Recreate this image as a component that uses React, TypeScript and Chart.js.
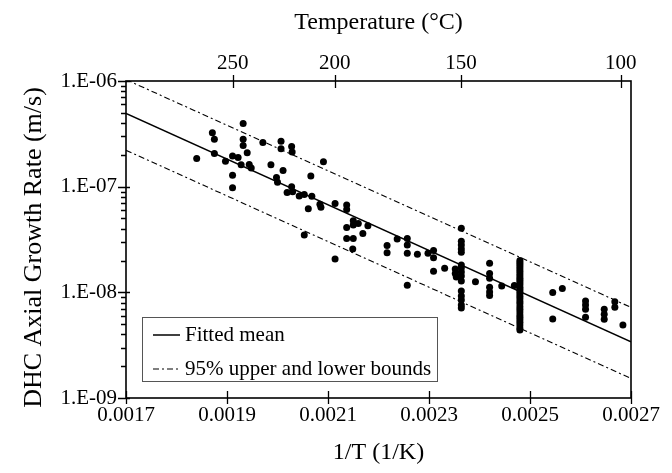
import React, { useEffect, useRef } from "react";
import { Chart, registerables } from "chart.js";

Chart.register(...registerables);

// ---- axis ticks ----
const X_TICKS = [0.0017, 0.0019, 0.0021, 0.0023, 0.0025, 0.0027];
const Y_TICKS = [1e-9, 1e-8, 1e-7, 1e-6];
const Y_TICK_LABELS = ["1.E-09", "1.E-08", "1.E-07", "1.E-06"];
const TEMP_TICKS = [250, 200, 150, 100]; // °C on top axis

// ---- fitted lines (1/T endpoints) ----
const FIT_X = [0.0017, 0.0027];
const FIT_MEAN = [4.92e-7, 3.41e-9];
const FIT_UPPER = [1.03e-6, 7.2e-9];
const FIT_LOWER = [2.21e-7, 1.53e-9];

// ---- scattered measurements (1/T, rate m/s) ----
const SCATTER_X = [
  0.001840, 0.001871, 0.001875, 0.001875, 0.001897, 0.001911, 0.001922, 0.001911, 0.001911,
  0.001932, 0.001932, 0.001932, 0.001940, 0.001928, 0.001944, 0.001948,
  0.001971, 0.001987, 0.002007, 0.002007, 0.002011, 0.001998, 0.002000, 0.002028, 0.002029,
  0.002019, 0.002028, 0.002030, 0.002043, 0.002053, 0.002068, 0.002066, 0.002091,
  0.002061, 0.002084, 0.002086, 0.002053,
  0.002114, 0.002137, 0.002137, 0.002137, 0.002137, 0.002114, 0.002150, 0.002150, 0.002160,
  0.002150, 0.002149, 0.002169, 0.002179, 0.002217, 0.002217, 0.002237,
  0.002257, 0.002257, 0.002257, 0.002257, 0.002277, 0.002298, 0.002309, 0.002309, 0.002309,
  0.002331, 0.002352, 0.002352, 0.002354, 0.002392,
  0.002444, 0.002469, 0.002545, 0.002564, 0.002545, 0.002684,
];
const SCATTER_Y = [
  1.85e-7, 3.23e-7, 2.81e-7, 2.06e-7, 1.74e-7, 1.95e-7, 1.89e-7, 1.28e-7, 9.75e-8,
  3.96e-7, 2.81e-7, 2.45e-7, 2.09e-7, 1.61e-7, 1.62e-7, 1.50e-7,
  2.62e-7, 1.61e-7, 2.69e-7, 2.28e-7, 1.42e-7, 1.22e-7, 1.10e-7, 2.40e-7, 2.13e-7,
  8.81e-8, 9.96e-8, 8.93e-8, 8.18e-8, 8.44e-8, 8.13e-8, 1.26e-7, 1.72e-7,
  6.17e-8, 6.83e-8, 6.40e-8, 3.48e-8,
  6.94e-8, 6.69e-8, 6.09e-8, 4.11e-8, 3.24e-8, 2.07e-8, 4.75e-8, 4.33e-8, 4.49e-8,
  3.24e-8, 2.57e-8, 3.61e-8, 4.26e-8, 2.78e-8, 2.37e-8, 3.19e-8,
  3.24e-8, 2.80e-8, 2.34e-8, 1.17e-8, 2.29e-8, 2.34e-8, 2.49e-8, 2.13e-8, 1.58e-8,
  1.69e-8, 1.66e-8, 1.51e-8, 1.40e-8, 1.26e-8,
  1.15e-8, 1.16e-8, 9.95e-9, 1.09e-8, 5.60e-9, 4.91e-9,
];

// ---- repeated tests at one temperature (columns) ----
const COL_X = [0.002364, 0.002420, 0.002480, 0.002610, 0.002647, 0.002668];
const COL_150C = [4.05e-8, 3.05e-8, 2.80e-8, 2.57e-8, 2.40e-8, 1.81e-8, 1.70e-8, 1.56e-8,
  1.43e-8, 1.28e-8, 1.03e-8, 9.23e-9, 8.46e-9, 7.59e-9, 7.10e-9];
const COL_140C = [1.88e-8, 1.51e-8, 1.36e-8, 1.12e-8, 1.01e-8, 9.33e-9];
const COL_130C = [2.0e-8, 1.92e-8, 1.83e-8, 1.75e-8, 1.66e-8, 1.58e-8, 1.5e-8, 1.43e-8,
  1.36e-8, 1.3e-8, 1.24e-8, 1.18e-8, 1.12e-8, 1.07e-8, 1.02e-8, 9.7e-9, 9.2e-9, 8.7e-9,
  8.2e-9, 7.8e-9, 7.3e-9, 6.9e-9, 6.5e-9, 6.1e-9, 5.8e-9, 5.5e-9, 5.2e-9, 4.9e-9, 4.6e-9, 4.4e-9];
const COL_110C = [8.27e-9, 7.59e-9, 6.90e-9, 5.81e-9];
const COL_105C = [6.90e-9, 6.19e-9, 5.56e-9];
const COL_102C = [8.15e-9, 7.22e-9];
const COL_Y = [COL_150C, COL_140C, COL_130C, COL_110C, COL_105C, COL_102C];

const LEGEND_LABELS = ["Fitted mean", "95% upper and lower bounds"];
const Y_TITLE = "DHC Axial Growth Rate (m/s)";

const FONT = "'Liberation Serif', 'Times New Roman', serif";

const framePlugin = {
  id: "frameTicksLegend",
  afterDraw(chart: any) {
    const { ctx, chartArea: a, scales } = chart;
    ctx.save();
    ctx.strokeStyle = "#000";
    ctx.lineWidth = 1.6;
    ctx.strokeRect(a.left, a.top, a.right - a.left, a.bottom - a.top);

    ctx.lineWidth = 1.3;
    ctx.beginPath();
    scales.x.ticks.forEach((t: any) => {
      const px = Math.round(scales.x.getPixelForValue(t.value)) + 0.5;
      ctx.moveTo(px, a.bottom - 7);
      ctx.lineTo(px, a.bottom + 6);
    });
    scales.x2.ticks.forEach((t: any) => {
      const px = Math.round(scales.x2.getPixelForValue(t.value)) + 0.5;
      ctx.moveTo(px, a.top - 6);
      ctx.lineTo(px, a.top + 7);
    });
    for (let e = -9; e <= -6; e++) {
      const py = Math.round(scales.y.getPixelForValue(Math.pow(10, e))) + 0.5;
      ctx.moveTo(a.left - 8, py);
      ctx.lineTo(a.left + 4, py);
      if (e < -6) {
        for (let k = 2; k <= 9; k++) {
          const pm = Math.round(scales.y.getPixelForValue(k * Math.pow(10, e))) + 0.5;
          ctx.moveTo(a.left - 5, pm);
          ctx.lineTo(a.left, pm);
        }
      }
    }
    ctx.stroke();

    // y-axis title
    ctx.save();
    ctx.translate(34, (a.top + a.bottom) / 2 + 8);
    ctx.rotate(-Math.PI / 2);
    ctx.font = `26px ${FONT}`;
    ctx.fillStyle = "#000";
    ctx.textAlign = "center";
    ctx.textBaseline = "middle";
    ctx.fillText(Y_TITLE, 0, 0);
    ctx.restore();

    // legend box
    const lx = a.left + 16, ly = a.top + 236, lw = 295, lh = 64;
    ctx.fillStyle = "#fff";
    ctx.fillRect(lx, ly, lw, lh);
    ctx.strokeStyle = "#555";
    ctx.lineWidth = 1;
    ctx.strokeRect(lx + 0.5, ly + 0.5, lw, lh);
    ctx.font = `21px ${FONT}`;
    ctx.fillStyle = "#000";
    ctx.textBaseline = "middle";
    const rows = [ly + 18, ly + 52];
    ctx.strokeStyle = "#000";
    ctx.lineWidth = 1.5;
    ctx.setLineDash([]);
    ctx.beginPath();
    ctx.moveTo(lx + 11, rows[0]);
    ctx.lineTo(lx + 38, rows[0]);
    ctx.stroke();
    ctx.fillText(LEGEND_LABELS[0], lx + 43, rows[0]);
    ctx.lineWidth = 1.1;
    ctx.setLineDash([6, 3, 2, 3]);
    ctx.beginPath();
    ctx.moveTo(lx + 11, rows[1]);
    ctx.lineTo(lx + 38, rows[1]);
    ctx.stroke();
    ctx.setLineDash([]);
    ctx.fillText(LEGEND_LABELS[1], lx + 43, rows[1]);
    ctx.restore();
  },
};

export default function App() {
  const ref = useRef<HTMLCanvasElement>(null);
  useEffect(() => {
    if (!ref.current) return;
    const scatterPts = SCATTER_X.map((x, i) => ({ x, y: SCATTER_Y[i] }));
    COL_X.forEach((x, j) => COL_Y[j].forEach((y) => scatterPts.push({ x, y })));
    const line = (ys: number[]) => FIT_X.map((x, i) => ({ x, y: ys[i] }));

    const chart = new Chart(ref.current, {
      type: "scatter",
      data: {
        datasets: [
          {
            label: "data",
            data: scatterPts,
            backgroundColor: "#000",
            borderColor: "#000",
            borderWidth: 0,
            pointRadius: 3.5,
          },
          {
            label: "Fitted mean",
            data: line(FIT_MEAN),
            showLine: true,
            borderColor: "#000",
            borderWidth: 1.5,
            pointRadius: 0,
          },
          {
            label: "upper",
            data: line(FIT_UPPER),
            showLine: true,
            borderColor: "#000",
            borderWidth: 1.1,
            borderDash: [6, 3, 2, 3],
            pointRadius: 0,
          },
          {
            label: "lower",
            data: line(FIT_LOWER),
            showLine: true,
            borderColor: "#000",
            borderWidth: 1.1,
            borderDash: [6, 3, 2, 3],
            pointRadius: 0,
          },
        ],
      },
      options: {
        animation: false,
        responsive: false,
        devicePixelRatio: 1,
        layout: { padding: { left: 0, right: 41, top: 0, bottom: 0 } },
        plugins: { legend: { display: false }, tooltip: { enabled: false } },
        scales: {
          x: {
            type: "linear",
            position: "bottom",
            min: 0.0017,
            max: 0.0027,
            afterBuildTicks: (s: any) => {
              s.ticks = X_TICKS.map((v) => ({ value: v }));
            },
            afterFit: (s: any) => {
              s.height = 75;
            },
            grid: { display: false, drawTicks: false },
            border: { display: false },
            ticks: {
              color: "#000",
              font: { family: FONT, size: 21 },
              padding: 5,
              maxRotation: 0,
              callback: (v: any) => Number(v).toFixed(4),
            },
            title: {
              display: true,
              text: "1/T (1/K)",
              color: "#000",
              font: { family: FONT, size: 24 },
              padding: { top: 0, bottom: 6 },
            },
          },
          x2: {
            type: "linear",
            position: "top",
            min: 0.0017,
            max: 0.0027,
            afterBuildTicks: (s: any) => {
              s.ticks = TEMP_TICKS.map((t) => ({ value: 1 / (t + 273.15) }));
            },
            afterFit: (s: any) => {
              s.height = 81;
            },
            grid: { display: false, drawTicks: false },
            border: { display: false },
            ticks: {
              color: "#000",
              font: { family: FONT, size: 21 },
              padding: 5,
              maxRotation: 0,
              callback: (_v: any, i: number) => String(TEMP_TICKS[i]),
            },
            title: {
              display: true,
              text: "Temperature (°C)",
              color: "#000",
              font: { family: FONT, size: 24 },
              padding: { top: 8, bottom: 0 },
            },
          },
          y: {
            type: "logarithmic",
            position: "left",
            min: 1e-9,
            max: 1e-6,
            afterBuildTicks: (s: any) => {
              s.ticks = Y_TICKS.map((v) => ({ value: v, major: true }));
            },
            afterFit: (s: any) => {
              s.width = 126;
            },
            grid: { display: false, drawTicks: false },
            border: { display: false },
            ticks: {
              color: "#000",
              font: { family: FONT, size: 21 },
              padding: 9,
              autoSkip: false,
              callback: (_v: any, i: number) => Y_TICK_LABELS[i],
            },
            title: { display: false },
          },
        },
      },
      plugins: [framePlugin],
    } as any);
    return () => chart.destroy();
  }, []);

  return (
    <div style={{ position: "absolute", left: 0, top: 0, width: 672, height: 473, background: "#fff" }}>
      <canvas ref={ref} width={672} height={473} style={{ width: 672, height: 473 }} />
    </div>
  );
}
